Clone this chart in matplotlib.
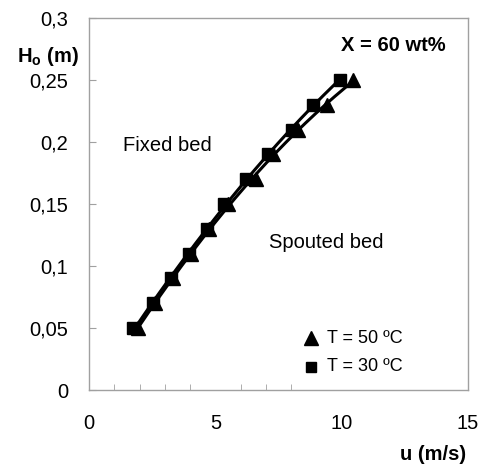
import numpy as np
import matplotlib
matplotlib.use("Agg")
import matplotlib.pyplot as plt
from matplotlib.ticker import FixedLocator, FuncFormatter

plt.rcParams['font.family'] = ['Liberation Sans', 'DejaVu Sans']
plt.rcParams['mathtext.fontset'] = 'custom'
plt.rcParams['mathtext.rm'] = 'Liberation Sans'
plt.rcParams['mathtext.bf'] = 'Liberation Sans:bold'

# data
H0 = [0.05, 0.07, 0.09, 0.11, 0.13, 0.15, 0.17, 0.19, 0.21, 0.23, 0.25]
u_50 = [1.95, 2.6, 3.33, 4.02, 4.74, 5.5, 6.6, 7.29, 8.28, 9.42, 10.45]
u_30 = [1.76, 2.53, 3.25, 3.95, 4.67, 5.36, 6.22, 7.08, 8.02, 8.88, 9.92]

x_ticks = [0, 5, 10, 15]
y_ticks = [0, 0.05, 0.1, 0.15, 0.2, 0.25, 0.3]

fs = 14.5

fig = plt.figure(figsize=(4.82, 4.70), dpi=100)
ax = fig.add_axes([0.1846, 0.1702, 0.7864, 0.7915])

# trend lines (2nd order fit of H vs u)
for u in (u_50, u_30):
    p = np.polyfit(u, H0, 2)
    uu = np.linspace(min(u), max(u), 200)
    ax.plot(uu, np.polyval(p, uu), color='black', lw=2.2, zorder=2)

ax.plot(u_50, H0, ls='none', marker='^', ms=9.5, color='black', zorder=3)
ax.plot(u_30, H0, ls='none', marker='s', ms=8, color='black', zorder=3)

ax.set_xlim(0, 15)
ax.set_ylim(0, 0.3)
for s in ax.spines.values():
    s.set_color('#a0a0a0')
    s.set_linewidth(1)

ax.xaxis.set_major_locator(FixedLocator(x_ticks))
ax.xaxis.set_minor_locator(FixedLocator([1, 2, 3, 4, 5, 6, 7, 8]))
ax.tick_params(axis='x', which='major', length=0, pad=17, labelsize=fs)
ax.tick_params(axis='x', which='minor', direction='in', length=4, color='#a0a0a0')
ax.yaxis.set_major_locator(FixedLocator(y_ticks))
ax.yaxis.set_major_formatter(FuncFormatter(lambda v, pos: ('%g' % round(v, 2)).replace('.', ',')))
ax.tick_params(axis='y', which='major', direction='in', length=5, color='#a0a0a0', pad=15, labelsize=fs)

fig.text(17 / 482, 1 - 57 / 470, r'$\mathbf{H_o}$ (m)', fontsize=fs, fontweight='bold', va='center', ha='left')
fig.text(466 / 482, 1 - 455 / 470, 'u (m/s)', fontsize=fs, fontweight='bold', va='center', ha='right')
ax.text(0.94, 0.925, 'X = 60 wt%', transform=ax.transAxes, fontsize=fs, fontweight='bold', ha='right', va='center')
ax.text(0.09, 0.657, 'Fixed bed', transform=ax.transAxes, fontsize=fs, ha='left', va='center')
ax.text(0.475, 0.397, 'Spouted bed', transform=ax.transAxes, fontsize=fs, ha='left', va='center')

# legend
ax.plot([0.585], [0.139], transform=ax.transAxes, marker='^', ms=9.5, color='black', ls='none', clip_on=False)
ax.plot([0.585], [0.062], transform=ax.transAxes, marker='s', ms=7, color='black', ls='none', clip_on=False)
ax.text(0.628, 0.139, 'T = 50 ºC', transform=ax.transAxes, fontsize=13, ha='left', va='center')
ax.text(0.628, 0.062, 'T = 30 ºC', transform=ax.transAxes, fontsize=13, ha='left', va='center')

fig.savefig('out.png', dpi=100)
